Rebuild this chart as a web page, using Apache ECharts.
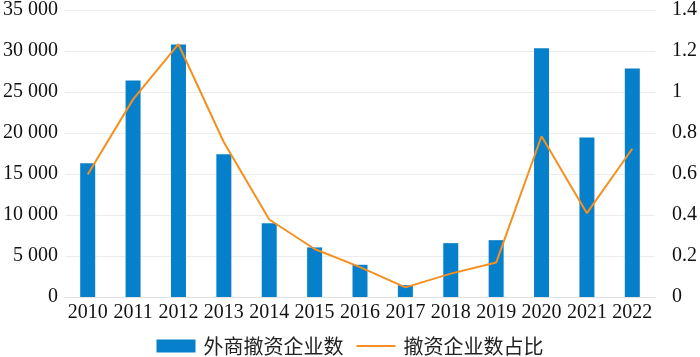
<!DOCTYPE html>
<html>
<head>
<meta charset="utf-8">
<script src="https://cdn.jsdelivr.net/npm/echarts@6/dist/echarts.min.js"></script>
<style>html,body{margin:0;padding:0;background:#fff;}#c{width:700px;height:357px;}</style>
</head>
<body>
<div id="c"></div>
<script>
var years = ['2010','2011','2012','2013','2014','2015','2016','2017','2018','2019','2020','2021','2022'];
var withdrawCount = [16300, 26400, 30800, 17400, 9000, 6050, 3930, 1440, 6570, 6930, 30350, 19450, 27870];
var withdrawRatio = [0.598, 0.964, 1.233, 0.755, 0.378, 0.234, 0.146, 0.047, 0.114, 0.168, 0.784, 0.409, 0.723];
var barName = '外商撤资企业数';
var lineName = '撤资企业数占比';

var FONT = "'Liberation Serif', 'Times New Roman', 'Noto Sans CJK SC', serif";
var chart = echarts.init(document.getElementById('c'), null, {renderer: 'canvas'});
function fmtThousands(v) {
  var s = String(Math.round(v));
  return s.replace(/\B(?=(\d{3})+(?!\d))/g, ' ');
}
chart.setOption({
  animation: false,
  textStyle: {fontFamily: FONT},
  grid: {left: 62, right: 42, top: 6, bottom: 60, containLabel: false},
  legend: {
    bottom: -4,
    left: 'center',
    itemGap: 12,
    itemWidth: 39,
    itemHeight: 13,
    textStyle: {fontSize: 20, color: '#222', padding: [0, 0, 0, 3], fontFamily: "'Noto Sans CJK SC', sans-serif"},
    data: [
      {name: barName, icon: 'rect'},
      {name: lineName, itemStyle: {opacity: 0}}
    ]
  },
  xAxis: {
    type: 'category',
    data: years,
    axisLine: {show: true, lineStyle: {color: '#e3e3e3', width: 1}},
    axisTick: {show: false},
    axisLabel: {fontSize: 20, color: '#111', margin: 6, interval: 0, fontFamily: FONT}
  },
  yAxis: [
    {
      type: 'value', min: 0, max: 35000, interval: 5000,
      axisLine: {show: false}, axisTick: {show: false},
      splitLine: {lineStyle: {color: '#ececec', width: 1}},
      axisLabel: {fontSize: 20, color: '#111', margin: 7, fontFamily: FONT, formatter: fmtThousands}
    },
    {
      type: 'value', min: 0, max: 1.4, interval: 0.2,
      axisLine: {show: false}, axisTick: {show: false},
      splitLine: {show: false},
      axisLabel: {fontSize: 20, color: '#111', margin: 17, fontFamily: FONT,
        formatter: function (v) { return String(parseFloat(v.toFixed(1))); }}
    }
  ],
  series: [
    {
      name: barName, type: 'bar', data: withdrawCount, yAxisIndex: 0,
      barWidth: 15,
      itemStyle: {color: '#0780cb'}
    },
    {
      name: lineName, type: 'line', data: withdrawRatio, yAxisIndex: 1,
      symbol: 'none', smooth: false,
      lineStyle: {color: '#f5901e', width: 2},
      itemStyle: {color: '#f5901e'}
    }
  ]
});
</script>
</body>
</html>
